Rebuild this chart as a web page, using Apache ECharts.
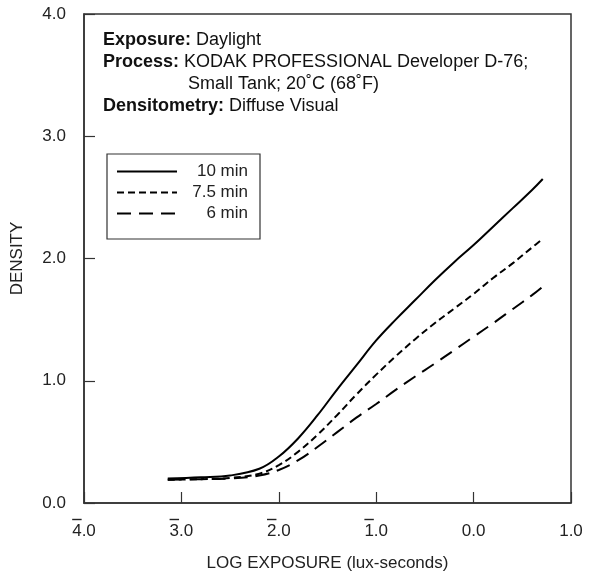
<!DOCTYPE html>
<html>
<head>
<meta charset="utf-8">
<script src="https://cdn.jsdelivr.net/npm/echarts@6/dist/echarts.min.js"></script>
<style>html,body{margin:0;padding:0;background:#fff;}#c{width:589px;height:577px;}</style>
</head>
<body>
<div id="c"></div>
<script>
var logExposure = [-3.14, -2.8, -2.5, -2.2, -2.0, -1.8, -1.6, -1.4, -1.2, -1.0, -0.8, -0.6, -0.4, -0.2, 0.0, 0.2, 0.4, 0.6, 0.71];
var density10 = [0.20, 0.21, 0.225, 0.28, 0.38, 0.53, 0.72, 0.93, 1.13, 1.33, 1.50, 1.66, 1.82, 1.97, 2.11, 2.26, 2.41, 2.56, 2.65];
var density75 = [0.19, 0.195, 0.205, 0.24, 0.31, 0.42, 0.56, 0.72, 0.89, 1.05, 1.20, 1.34, 1.47, 1.59, 1.71, 1.84, 1.96, 2.09, 2.16];
var density6  = [0.19, 0.195, 0.20, 0.225, 0.27, 0.35, 0.46, 0.58, 0.70, 0.81, 0.925, 1.035, 1.14, 1.25, 1.36, 1.47, 1.585, 1.70, 1.77];
var seriesNames = ['10 min', '7.5 min', '6 min'];
// x tick labels in bar notation: characteristic digit and whether it carries an overbar
var xTickDigits = {'-4': '4', '-3': '3', '-2': '2', '-1': '1', '0': '0', '1': '1'};
var xTickBarred = {'-4': true, '-3': true, '-2': true, '-1': true, '0': false, '1': false};
var yTickLabels = {'0': '0.0', '1': '1.0', '2': '2.0', '3': '3.0', '4': '4.0'};

function pairs(ys) { return logExposure.map(function (x, i) { return [x, ys[i]]; }); }

var FONT = 'Liberation Sans, Arial, sans-serif';
var FS = 17;
var AFS = 18;
var DIGIT_W = 0.556 * FS, REST_W = 0.834 * FS;
var chart = echarts.init(document.getElementById('c'), null, {renderer: 'canvas'});
chart.setOption({
  animation: false,
  backgroundColor: '#fff',
  textStyle: {fontFamily: FONT, color: '#222'},
  grid: {left: 84, right: 18, top: 14, bottom: 73, show: true, borderColor: '#333', borderWidth: 1.5, backgroundColor: 'transparent'},
  xAxis: {
    type: 'value', min: -4, max: 1, interval: 1,
    name: 'LOG EXPOSURE (lux-seconds)', nameLocation: 'middle', nameGap: 52,
    nameTextStyle: {fontSize: FS, color: '#222', fontFamily: FONT},
    axisLine: {show: true, onZero: false, lineStyle: {color: '#333', width: 1.5}},
    axisTick: {show: true, inside: true, length: 11, lineStyle: {color: '#333', width: 1.2}},
    axisLabel: {fontSize: FS, color: '#222', margin: 14, fontFamily: FONT,
      formatter: function (v) {
        var k = String(Math.round(v));
        return '{' + (xTickBarred[k] ? 'bar' : 'nob') + '|}{sp|}\n{t|' + xTickDigits[k] + '.0}';
      },
      rich: {
        bar: {width: DIGIT_W, height: 1.4, lineHeight: 5, backgroundColor: '#222'},
        nob: {width: DIGIT_W, height: 1.4, lineHeight: 5},
        sp: {width: REST_W, height: 1.4, lineHeight: 5},
        t: {fontSize: FS, color: '#222', fontFamily: FONT, lineHeight: 18}
      }
    },
    splitLine: {show: false}
  },
  yAxis: {
    type: 'value', min: 0, max: 4, interval: 1,
    name: 'DENSITY', nameLocation: 'middle', nameGap: 58, nameRotate: 90,
    nameTextStyle: {fontSize: FS, color: '#222', fontFamily: FONT},
    axisLine: {show: true, onZero: false, lineStyle: {color: '#333', width: 1.5}},
    axisTick: {show: true, inside: true, length: 11, lineStyle: {color: '#333', width: 1.2}},
    axisLabel: {fontSize: FS, color: '#222', margin: 18, fontFamily: FONT,
      formatter: function (v) { return yTickLabels[String(Math.round(v))]; }},
    splitLine: {show: false}
  },
  legend: {
    left: 107, top: 154, orient: 'vertical',
    padding: [9, 12, 17, 9], itemGap: 4, itemWidth: 60, itemHeight: 14,
    borderColor: '#333', borderWidth: 1.2, backgroundColor: '#fff',
    data: seriesNames,
    itemStyle: {opacity: 0},
    formatter: function (n) { return '{r|' + n + '}'; },
    textStyle: {fontSize: FS, color: '#222', fontFamily: FONT,
      rich: {r: {width: 66, align: 'right', fontSize: FS, color: '#222', fontFamily: FONT}}}
  },
  graphic: [{
    type: 'text', left: 103, top: 29,
    style: {
      text: '{b|Exposure:} Daylight\n{b|Process:} KODAK PROFESSIONAL Developer D-76;\n{i|}Small Tank; 20˚C (68˚F)\n{b|Densitometry:} Diffuse Visual',
      fontSize: AFS, fontFamily: FONT, fill: '#111', lineHeight: 22,
      rich: {
        b: {fontWeight: 'bold', fontSize: AFS, fontFamily: FONT, fill: '#111', lineHeight: 22},
        i: {width: 85, lineHeight: 22}
      }
    }
  }],
  series: [
    {name: seriesNames[0], type: 'line', data: pairs(density10), smooth: 0.4, symbol: 'none',
     lineStyle: {color: '#000', width: 2, type: 'solid'}, itemStyle: {color: '#000'}},
    {name: seriesNames[1], type: 'line', data: pairs(density75), smooth: 0.4, symbol: 'none',
     lineStyle: {color: '#000', width: 2, type: [7, 4]}, itemStyle: {color: '#000'}},
    {name: seriesNames[2], type: 'line', data: pairs(density6), smooth: 0.4, symbol: 'none',
     lineStyle: {color: '#000', width: 2, type: [14, 8]}, itemStyle: {color: '#000'}}
  ]
});
</script>
</body>
</html>
